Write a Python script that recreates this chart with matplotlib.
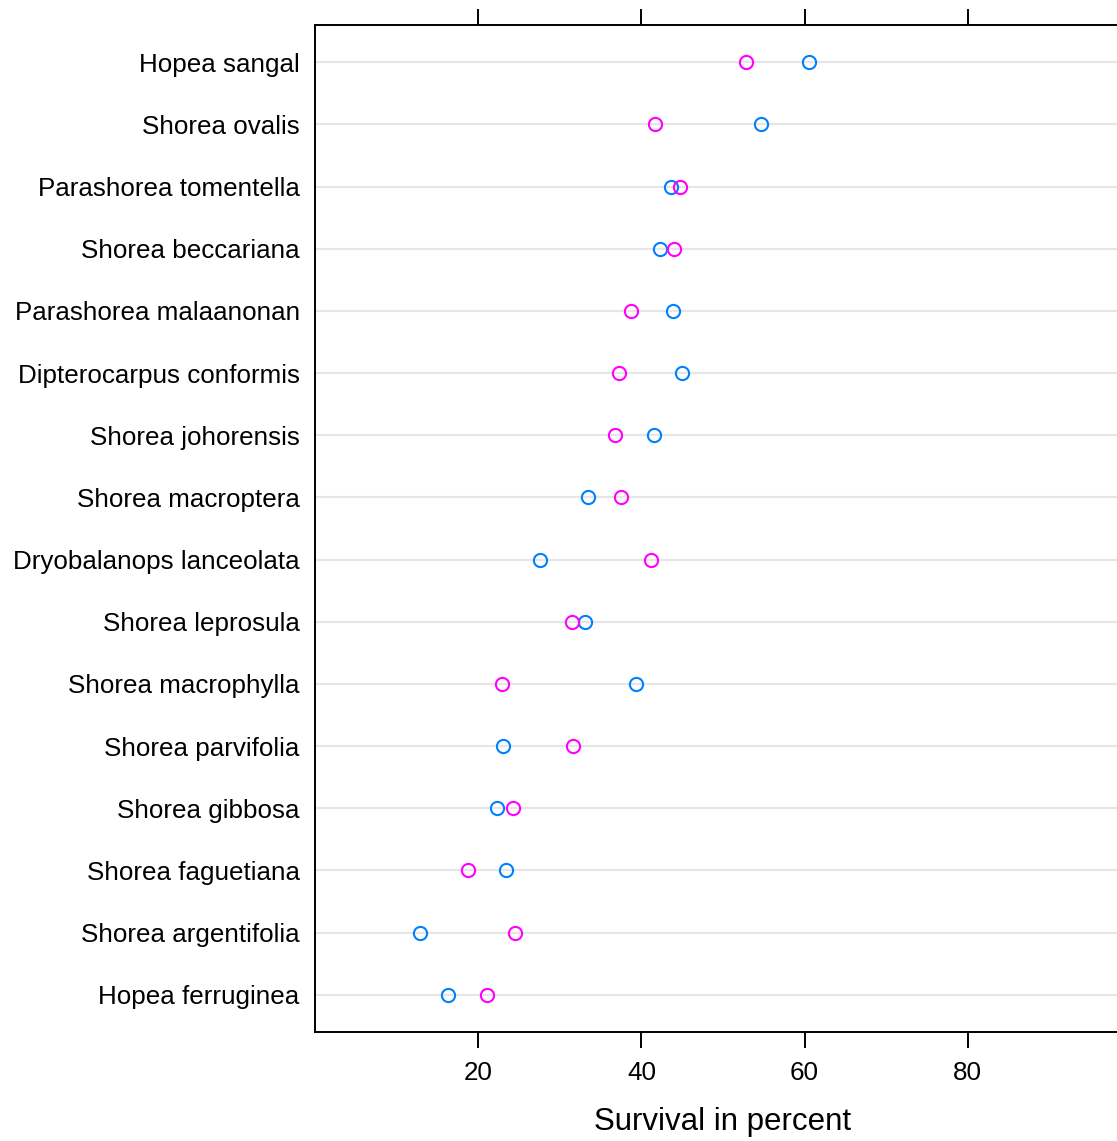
import matplotlib
matplotlib.use('Agg')
import matplotlib.pyplot as plt
import numpy as np

plt.rcParams['font.family'] = ['Liberation Sans', 'DejaVu Sans']

# species, top to bottom
species = ['Hopea sangal', 'Shorea ovalis', 'Parashorea tomentella',
           'Shorea beccariana', 'Parashorea malaanonan', 'Dipterocarpus conformis',
           'Shorea johorensis', 'Shorea macroptera', 'Dryobalanops lanceolata',
           'Shorea leprosula', 'Shorea macrophylla', 'Shorea parvifolia',
           'Shorea gibbosa', 'Shorea faguetiana', 'Shorea argentifolia',
           'Hopea ferruginea']
# survival in percent, two groups
blue_vals = [60.6, 54.6, 43.6, 42.3, 43.9, 45.0, 41.5, 33.4, 27.6, 33.1,
             39.3, 23.0, 22.3, 23.4, 12.9, 16.3]
magenta_vals = [52.8, 41.7, 44.7, 44.0, 38.7, 37.2, 36.8, 37.5, 41.2, 31.5,
                22.9, 31.6, 24.3, 18.7, 24.5, 21.1]
xticks = [20, 40, 60, 80]

n = len(species)
ypos = np.arange(n, 0, -1)

fig = plt.figure(figsize=(11.17, 11.41), dpi=100)
ax = fig.add_axes([315 / 1117, 1 - 1032 / 1141, (1131 - 315) / 1117, (1032 - 25) / 1141])

for y in ypos:
    ax.axhline(y, color='#e6e6e6', linewidth=1.5, zorder=1)

ax.plot(blue_vals, ypos, 'o', linestyle='none', markerfacecolor='none',
        markeredgecolor='#0080ff', markersize=9.5, markeredgewidth=1.5, zorder=3)
ax.plot(magenta_vals, ypos, 'o', linestyle='none', markerfacecolor='none',
        markeredgecolor='#ff00ff', markersize=9.5, markeredgewidth=1.5, zorder=4)

ax.set_xlim(0, 100)
ax.set_ylim(0.4, n + 0.6)
ax.set_yticks(ypos)
ax.set_yticklabels(species, fontsize=18.7)
ax.set_xticks(xticks)
ax.set_xticklabels([str(t) for t in xticks], fontsize=18.7)
ax.tick_params(axis='y', length=0, pad=11)
ax.tick_params(axis='x', direction='out', length=11.5, width=1.4, pad=9.5,
               top=True, labeltop=False)
for s in ax.spines.values():
    s.set_linewidth(1.4)
ax.set_xlabel('Survival in percent', fontsize=22.5, labelpad=16)

fig.savefig('out.png', dpi=100)
